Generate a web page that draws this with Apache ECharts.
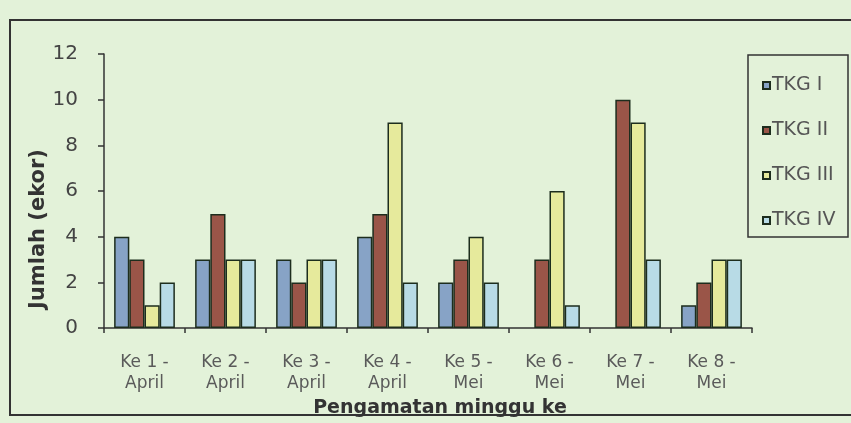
<!DOCTYPE html>
<html>
<head>
<meta charset="utf-8">
<script src="https://cdn.jsdelivr.net/npm/echarts@6/dist/echarts.min.js"></script>
<style>
html,body{margin:0;padding:0;}
#c{width:851px;height:423px;}
</style>
</head>
<body>
<div id="c"></div>
<script>
const categories = ["Ke 1 -\nApril","Ke 2 -\nApril","Ke 3 -\nApril","Ke 4 -\nApril","Ke 5 -\nMei","Ke 6 -\nMei","Ke 7 -\nMei","Ke 8 -\nMei"];
const seriesNames = ["TKG I","TKG II","TKG III","TKG IV"];
const tkg1 = [4, 3, 3, 4, 2, 0, 0, 1];
const tkg2 = [3, 5, 2, 5, 3, 3, 10, 2];
const tkg3 = [1, 3, 3, 9, 4, 6, 9, 3];
const tkg4 = [2, 3, 3, 2, 2, 1, 3, 3];
const yTicks = [0, 2, 4, 6, 8, 10, 12];
const colors = ["#87a3c6", "#9a5548", "#e6ea9c", "#b8dbe6"];

const FONT = 'DejaVu Sans, Liberation Sans, Arial';
const chart = echarts.init(document.getElementById('c'));
const values = [tkg1, tkg2, tkg3, tkg4];
chart.setOption({
  backgroundColor: '#e3f2d9',
  animation: false,
  grid: {left: 104, right: 99, top: 54, bottom: 91},
  legend: {
    orient: 'vertical',
    left: 757, top: 71,
    itemWidth: 7, itemHeight: 7, itemGap: 26,
    icon: 'rect',
    textStyle: {fontFamily: FONT, fontSize: 19, color: '#555', padding: [0,0,0,-3]},
    data: seriesNames
  },
  xAxis: {
    type: 'category',
    data: categories,
    axisLine: {lineStyle: {color: '#333', width: 1.5}},
    axisTick: {show: true, length: 5, lineStyle: {color: '#333', width: 1.5}},
    axisLabel: {fontFamily: FONT, fontSize: 17, color: '#5a5a5a', lineHeight: 21, margin: 24},
    name: 'Pengamatan minggu ke',
    nameLocation: 'middle',
    nameGap: 62,
    nameTextStyle: {fontFamily: FONT, fontSize: 19, fontWeight: 'bold', color: '#333', padding: [0,0,0,24]}
  },
  yAxis: {
    type: 'value',
    min: 0, max: 12, interval: 2,
    axisLine: {show: true, lineStyle: {color: '#333', width: 1.5}},
    axisTick: {show: true, inside: false, length: 6, lineStyle: {color: '#333', width: 1.5}},
    splitLine: {show: false},
    axisLabel: {fontFamily: FONT, fontSize: 20, color: '#444', margin: 26,
      formatter: v => yTicks.includes(v) ? String(v) : ''}
  },
  graphic: [
    {type: 'rect', shape: {x: 10, y: 20, width: 860, height: 395}, style: {fill: 'none', stroke: '#333', lineWidth: 2}, silent: true},
    {type: 'rect', shape: {x: 748, y: 55, width: 100, height: 182}, style: {fill: 'none', stroke: '#333', lineWidth: 1.5}, silent: true},
    {type: 'text', x: 39, y: 229, rotation: Math.PI/2,
      style: {text: 'Jumlah (ekor)', fontFamily: FONT, fontSize: 21, fontWeight: 'bold', fill: '#333', align: 'center', verticalAlign: 'middle'}}
  ],
  series: seriesNames.map((n, i) => ({
    name: n,
    type: 'bar',
    data: values[i].map(v => v === 0 ? null : v),
    barGap: '0%',
    barCategoryGap: '25%',
    itemStyle: {color: colors[i], borderColor: '#1d2d1d', borderWidth: 1.5}
  }))
});
</script>
</body>
</html>
